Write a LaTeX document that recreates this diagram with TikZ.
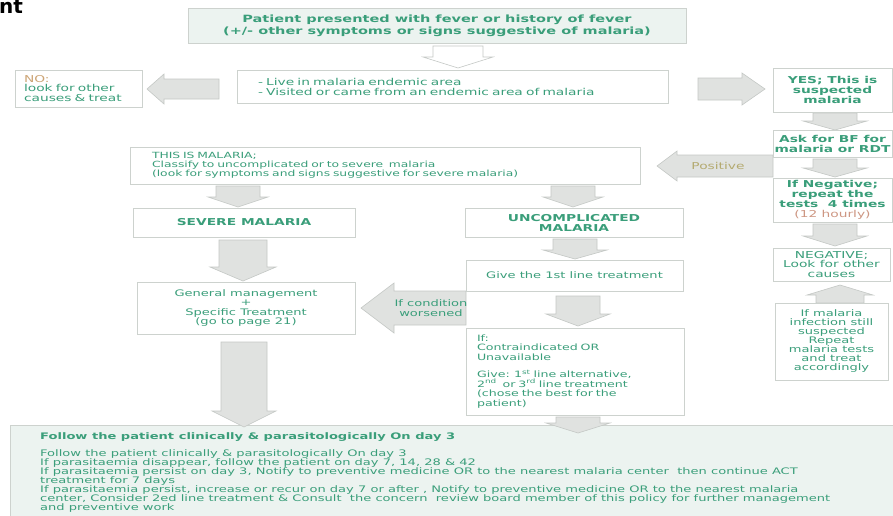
\documentclass[tikz,border=0pt]{standalone}
\usepackage{fontspec}
\setmainfont{DejaVu Sans}[FakeStretch=1.45]
\newfontfamily\titlefont{DejaVu Sans}
\lineskiplimit=-20pt
\lineskip=0pt
\definecolor{txtgreen}{RGB}{58,158,122}
\definecolor{boxline}{RGB}{205,210,206}
\definecolor{mintfill}{RGB}{236,243,240}
\definecolor{arrfill}{RGB}{224,226,224}
\definecolor{arrline}{RGB}{196,200,197}
\definecolor{notan}{RGB}{205,165,118}
\definecolor{posolive}{RGB}{180,170,112}
\definecolor{hourpink}{RGB}{205,150,130}
\newcommand\arrD[7][]{\filldraw[blockarr,#1] ({#2-#5},#3) -- ({#2+#5},#3) -- ({#2+#5},{#4-#7}) -- ({#2+#6},{#4-#7}) -- (#2,#4) -- ({#2-#6},{#4-#7}) -- ({#2-#5},{#4-#7}) -- cycle;}
\newcommand\arrU[7][]{\filldraw[blockarr,#1] ({#2-#5},#3) -- ({#2+#5},#3) -- ({#2+#5},{#4+#7}) -- ({#2+#6},{#4+#7}) -- (#2,#4) -- ({#2-#6},{#4+#7}) -- ({#2-#5},{#4+#7}) -- cycle;}
\newcommand\arrL[7][]{\filldraw[blockarr,#1] (#4,{#3-#5}) -- (#4,{#3+#5}) -- ({#2+#7},{#3+#5}) -- ({#2+#7},{#3+#6}) -- (#2,#3) -- ({#2+#7},{#3-#6}) -- ({#2+#7},{#3-#5}) -- cycle;}
\newcommand\arrR[7][]{\filldraw[blockarr,#1] (#2,{#3-#5}) -- (#2,{#3+#5}) -- ({#4-#7},{#3+#5}) -- ({#4-#7},{#3+#6}) -- (#4,#3) -- ({#4-#7},{#3-#6}) -- ({#4-#7},{#3-#5}) -- cycle;}
\begin{document}
\begin{tikzpicture}[x=1pt,y=-1pt,
  box/.style={draw=boxline, fill=white, line width=0.7pt, inner sep=0pt, text=txtgreen},
  blockarr/.style={draw=arrline, fill=arrfill, line width=0.6pt},
  hollow/.style={fill=white},
  fbody/.style={font=\fontsize{9.5}{10}\selectfont},
  fbold/.style={font=\bfseries\fontsize{9.5}{10}\selectfont},
  lbl/.style={inner sep=0pt, text=txtgreen, align=center}]
\fill[white] (0,0) rectangle (893,515);
\useasboundingbox (0,0) rectangle (893,515);

% title fragment
\node[anchor=base west, inner sep=0pt] (title) at (-1,13) {\titlefont\bfseries\fontsize{20}{20}\selectfont nt};

% bottom box
\node[draw=boxline, fill=mintfill, line width=0.7pt, minimum width=900pt, minimum height=100pt, anchor=north west] (bottombox) at (10,425) {};
\node[anchor=base west, inner sep=0pt, text=txtgreen, font=\bfseries\fontsize{9}{9}\selectfont] (bottomhead) at (40,439) {Follow the patient clinically \& parasitologically On day 3};
\node[anchor=north west, inner sep=0pt, text=txtgreen, align=left, font=\fontsize{9}{9}\selectfont] (bottomtext) at (40,449.5) {Follow the patient clinically \& parasitologically On day 3\\
If parasitaemia disappear, follow the patient on day 7, 14, 28 \& 42\\
If parasitaemia persist on day 3, Notify to preventive medicine OR to the nearest malaria center\ \ then continue ACT\\
treatment for 7 days\\
If parasitaemia persist, increase or recur on day 7 or after , Notify to preventive medicine OR to the nearest malaria\\
center, Consider 2ed line treatment \& Consult\ \ the concern\ \ review board member of this policy for further management\\
and preventive work};

% block arrows
\arrD[hollow]{458}{46}{68}{25}{35}{11}
\arrL{147}{89}{219}{10}{15}{17}
\arrR{698}{89}{765}{11}{16}{23}
\arrD{835}{113}{130}{22}{32}{9}
\arrD{835}{159}{177}{22}{32}{9}
\arrD{835}{224}{246}{22}{32}{10}
\arrU{840}{303}{285}{24}{33}{10}
\arrL{657}{166}{773}{11}{15}{20}
\arrD{238}{186}{207}{22}{30}{10}
\arrD{573}{186}{207}{22}{30}{10}
\arrD{243}{240}{281}{24}{33}{14}
\arrD{575}{239}{259}{22}{32}{9}
\arrD{578}{296}{326}{22}{32}{12}
\arrL{361}{308}{466}{17}{25}{33}
\arrD{244}{342}{427}{23}{32}{16}
\arrD{578}{417}{433}{22}{32}{10}

% arrow labels
\node[lbl, text=posolive, fbody] (positive) at (718,166) {Positive};
\node[lbl, font=\fontsize{9}{10}\selectfont] (worsened) at (431,308) {If condition\\worsened};

% boxes
\node[box, fill=mintfill, minimum width=498pt, minimum height=35pt, align=center, font=\bfseries\fontsize{10}{12}\selectfont] (top) at (437,25.5) {Patient presented with fever or history of fever\\(+/- other symptoms or signs suggestive of malaria)};
\node[box, minimum height=33pt, inner xsep=21pt, text width=389pt, align=left, fbody] (endemic) at (452.5,86.5) {- Live in malaria endemic area\\- Visited or came from an endemic area of malaria};
\node[box, minimum height=37pt, inner xsep=9pt, text width=109pt, align=left, font=\fontsize{9.5}{9.5}\selectfont] (no) at (78.5,88.5) {\textcolor{notan}{NO:}\\look for other\\causes \& treat};
\node[box, minimum width=119pt, minimum height=44pt, align=center, fbold] (yes) at (832.5,90) {YES; This is\\suspected\\malaria};
\node[box, minimum width=119pt, minimum height=27pt, align=center, fbold] (ask) at (832.5,143.5) {Ask for BF for\\malaria or RDT};
\node[box, minimum width=119pt, minimum height=44pt, align=center, fbold] (ifneg) at (832.5,200) {If Negative;\\repeat the\\tests\ \ 4 times\\\textcolor{hourpink}{\mdseries(12 hourly)}};
\node[box, minimum width=117pt, minimum height=33pt, align=center, font=\fontsize{9.5}{9.5}\selectfont] (negative) at (831.5,264.5) {NEGATIVE;\\Look for other\\causes};
\node[box, minimum width=113pt, minimum height=77pt, align=center, font=\fontsize{9}{9}\selectfont] (ifmal) at (831.5,341.5) {If malaria\\infection still\\suspected\\Repeat\\malaria tests\\and treat\\accordingly};
\node[box, minimum height=37pt, inner xsep=22pt, text width=466pt, align=left, font=\fontsize{8.5}{9}\selectfont] (thisis) at (385,165.5) {THIS IS MALARIA;\\Classify to uncomplicated or to severe\ \ malaria\\(look for symptoms and signs suggestive for severe malaria)};
\node[box, minimum width=222pt, minimum height=29pt, align=center, fbold] (severe) at (244,222.5) {SEVERE MALARIA};
\node[box, minimum width=218pt, minimum height=29pt, align=center, fbold] (uncomp) at (574,222.5) {UNCOMPLICATED\\MALARIA};
\node[box, minimum width=217pt, minimum height=31pt, align=center, font=\fontsize{9}{10}\selectfont] (give) at (574.5,275.5) {Give the 1st line treatment};
\node[box, minimum height=87pt, inner xsep=11pt, text width=196pt, align=left, font=\fontsize{8.7}{9.5}\selectfont] (ifbox) at (575,371.5) {If:\\Contraindicated OR\\Unavailable\\[8pt]Give: 1\textsuperscript{st} line alternative,\\2\textsuperscript{nd}\ \ or 3\textsuperscript{rd} line treatment\\(chose the best for the\\patient)};
\node[box, minimum width=218pt, minimum height=52pt, align=center, font=\fontsize{9}{9.5}\selectfont] (general) at (246,308) {General management\\+\\Specific Treatment\\(go to page 21)};
\end{tikzpicture}
\end{document}
